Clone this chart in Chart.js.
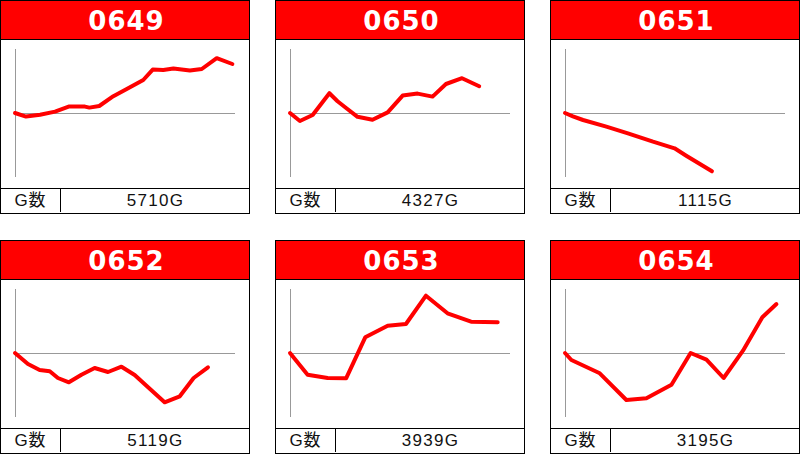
<!DOCTYPE html>
<html>
<head>
<meta charset="utf-8">
<script src="https://cdn.jsdelivr.net/npm/chart.js@4.4.1/dist/chart.umd.min.js"></script>
<style>
  html, body { margin: 0; padding: 0; background: #fff; width: 800px; height: 455px; overflow: hidden; }
  .box { position: absolute; width: 250px; height: 214px; box-sizing: border-box; border: 1px solid #000; background: #fff; }
  .head { height: 39px; background: #ff0000; border-bottom: 1px solid #000; color: #fff;
          font-family: "DejaVu Sans", sans-serif; font-weight: bold; font-size: 26px; letter-spacing: 1px;
          padding-left: 3px; box-sizing: border-box; text-align: center; line-height: 40px; }
  .plot { height: 148px; position: relative; }
  .plot canvas { display: block; }
  .foot { height: 23px; border-top: 1px solid #000; display: flex; font-family: "Liberation Sans", Arial, "Noto Sans CJK JP", sans-serif;
          font-size: 17px; color: #111; line-height: 23px; }
  .foot .lab { width: 59px; border-right: 1px solid #000; text-align: center; letter-spacing: 1px; }
  .foot .val { flex: 1; text-align: center; letter-spacing: 1.3px; padding-left: 1px; }
</style>
</head>
<body>
<div id="wrap"></div>
<script>
// ---- data ----
const machines = ['0649', '0650', '0651', '0652', '0653', '0654'];
const gameCounts = [5710, 4327, 1115, 5119, 3939, 3195];
const gameLabel = 'G数';

// progress (% of the day) and coin difference for each machine
const x0649 = [0, 5.0, 11.4, 18.2, 24.7, 31.8, 33.8, 38.3, 44.7, 50.8, 58.3, 62.6, 67.4, 72.0, 79.5, 84.9, 91.7, 98.8];
const y0649 = [0, -180, -90, 70, 330, 320, 270, 350, 840, 1200, 1650, 2170, 2150, 2220, 2120, 2200, 2740, 2450];

const x0650 = [0, 4.5, 10.3, 17.9, 21.6, 25.5, 30.7, 37.5, 44.4, 51.2, 58.0, 64.8, 70.9, 78.2, 86.0];
const y0650 = [0, -400, -100, 990, 590, 250, -190, -340, 30, 870, 970, 820, 1450, 1740, 1340];

const x0651 = [0, 3.6, 8.2, 18.8, 28.6, 40.0, 49.8, 55.1, 66.8];
const y0651 = [0, -165, -350, -685, -1015, -1435, -1765, -2135, -2915];

const x0652 = [0, 5.9, 11.2, 15.8, 19.5, 24.5, 30.2, 36.2, 42.3, 48.4, 54.4, 60.5, 68.0, 74.9, 81.2, 87.7];
const y0652 = [0, -550, -850, -915, -1250, -1465, -1085, -750, -950, -685, -1100, -1715, -2465, -2165, -1250, -715];

const x0653 = [0, 8.0, 17.1, 25.5, 34.2, 44.4, 52.7, 61.8, 71.6, 82.3, 94.4];
const y0653 = [0, -1085, -1250, -1265, 785, 1365, 1450, 2865, 1985, 1565, 1535];

const x0654 = [0, 2.9, 15.8, 27.9, 37.0, 48.4, 57.1, 64.3, 72.1, 80.9, 89.7, 96.1];
const y0654 = [0, -350, -1015, -2350, -2265, -1585, 0, -335, -1250, 115, 1785, 2450];

const xRange = [0, 100];
const yRange = [-3200, 3200];

// ---- build ----
const seriesX = [x0649, x0650, x0651, x0652, x0653, x0654];
const seriesY = [y0649, y0650, y0651, y0652, y0653, y0654];
const lefts = [0, 275, 550];
const tops = [0, 240];

const axesPlugin = {
  id: 'axesLines',
  beforeDatasetsDraw(chart) {
    const ctx = chart.ctx;
    const xs = chart.scales.x, ys = chart.scales.y;
    const x0 = Math.round(xs.getPixelForValue(xRange[0])) + 0.5;
    const x1 = xs.getPixelForValue(xRange[1]);
    const yz = Math.round(ys.getPixelForValue(0)) + 0.5;
    ctx.save();
    ctx.strokeStyle = '#999999';
    ctx.lineWidth = 1;
    ctx.beginPath();
    ctx.moveTo(x0, ys.getPixelForValue(yRange[1]));
    ctx.lineTo(x0, ys.getPixelForValue(yRange[0]));
    ctx.moveTo(x0, yz);
    ctx.lineTo(x1, yz);
    ctx.stroke();
    ctx.restore();
  }
};

const wrap = document.getElementById('wrap');
machines.forEach((m, i) => {
  const box = document.createElement('div');
  box.className = 'box';
  box.style.left = lefts[i % 3] + 'px';
  box.style.top = tops[Math.floor(i / 3)] + 'px';
  box.innerHTML =
    '<div class="head">' + m + '</div>' +
    '<div class="plot"><canvas width="248" height="148"></canvas></div>' +
    '<div class="foot"><div class="lab">' + gameLabel + '</div><div class="val">' + gameCounts[i] + 'G</div></div>';
  wrap.appendChild(box);
  const canvas = box.querySelector('canvas');
  const pts = seriesX[i].map((x, k) => ({ x: x, y: seriesY[i][k] }));
  new Chart(canvas, {
    type: 'line',
    data: { datasets: [{ data: pts, borderColor: '#ff0000', borderWidth: 4, pointRadius: 0,
                         borderJoinStyle: 'round', borderCapStyle: 'round', tension: 0, clip: false, fill: false }] },
    options: {
      responsive: false,
      animation: false,
      devicePixelRatio: 1,
      layout: { padding: { left: 14, right: 14, top: 9, bottom: 11 } },
      plugins: { legend: { display: false }, tooltip: { enabled: false } },
      scales: {
        x: { type: 'linear', display: false, min: xRange[0], max: xRange[1] },
        y: { type: 'linear', display: false, min: yRange[0], max: yRange[1] }
      }
    },
    plugins: [axesPlugin]
  });
});
</script>
</body>
</html>
